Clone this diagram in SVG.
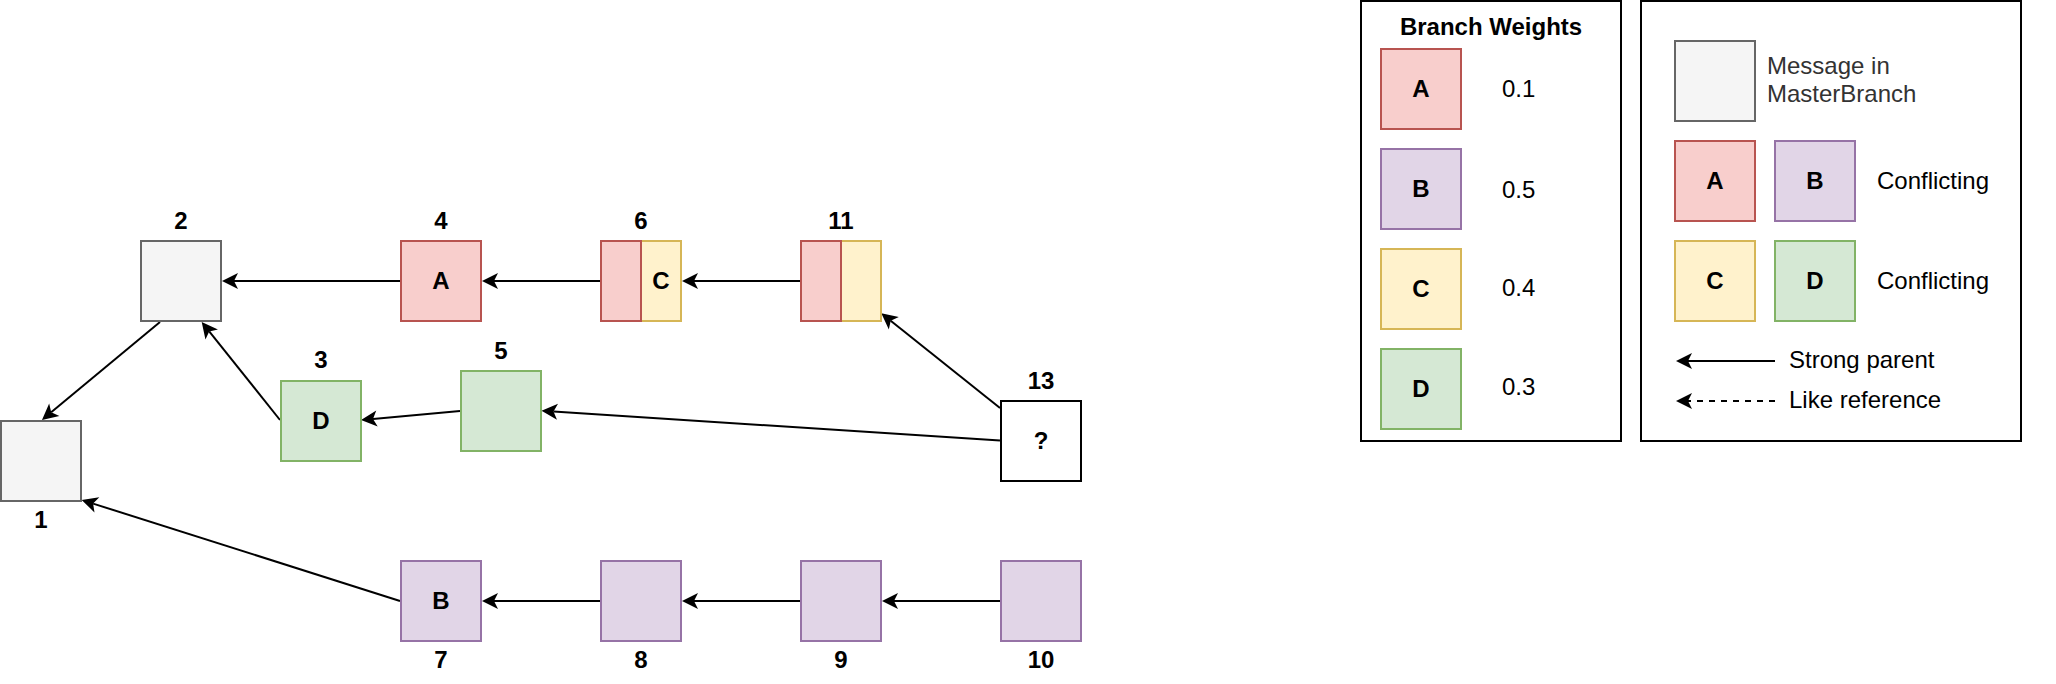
<svg xmlns="http://www.w3.org/2000/svg" width="2056" height="684" viewBox="0 0 2056 684">
<defs>
<style>
text{font-family:"Liberation Sans",Arial,Helvetica,sans-serif;font-size:24px;fill:#000}
.b{font-weight:bold}
.m{text-anchor:middle}
.g{fill:#f5f5f5;stroke:#666666;stroke-width:2}
.r{fill:#f8cecc;stroke:#b85450;stroke-width:2}
.p{fill:#e1d5e7;stroke:#9673a6;stroke-width:2}
.y{fill:#fff2cc;stroke:#d6b656;stroke-width:2}
.gr{fill:#d5e8d4;stroke:#82b366;stroke-width:2}
.w{fill:#ffffff;stroke:#000000;stroke-width:2}
.frame{fill:#ffffff;stroke:#000000;stroke-width:2}
.e{fill:none;stroke:#000;stroke-width:2;marker-end:url(#arr)}
.d{stroke-dasharray:6 6}
.dk{fill:#333333}
</style>
<marker id="arr" markerUnits="userSpaceOnUse" viewBox="-17 -9 18 18" markerWidth="18" markerHeight="18" refX="-12" refY="0" orient="auto">
<path d="M0,0 L-16,-8 L-12,0 L-16,8 Z" fill="#000"/>
</marker>
</defs>
<rect width="2056" height="684" fill="#ffffff"/>

<g id="connectors">
<line class="e" x1="400" y1="281" x2="234" y2="281"/>
<line class="e" x1="600" y1="281" x2="494" y2="281"/>
<line class="e" x1="800" y1="281" x2="694" y2="281"/>
<line class="e" x1="160" y1="322" x2="51.2" y2="412.3"/>
<line class="e" x1="280" y1="420" x2="209.2" y2="331.4"/>
<line class="e" x1="460" y1="411" x2="373" y2="418.9"/>
<line class="e" x1="1000" y1="440.5" x2="553.5" y2="411.5"/>
<line class="e" x1="1000" y1="408" x2="890.7" y2="320.8"/>
<line class="e" x1="400" y1="601" x2="93.1" y2="503.6"/>
<line class="e" x1="600" y1="601" x2="494" y2="601"/>
<line class="e" x1="800" y1="601" x2="694" y2="601"/>
<line class="e" x1="1000" y1="601" x2="894" y2="601"/>
</g>

<g id="node1"><rect class="g" x="1" y="421" width="80" height="80"/><text class="b m" x="41" y="528">1</text></g>
<g id="node2"><rect class="g" x="141" y="241" width="80" height="80"/><text class="b m" x="181" y="229">2</text></g>
<g id="node3"><rect class="gr" x="281" y="381" width="80" height="80"/><text class="b m" x="321" y="429">D</text><text class="b m" x="321" y="368">3</text></g>
<g id="node4"><rect class="r" x="401" y="241" width="80" height="80"/><text class="b m" x="441" y="289">A</text><text class="b m" x="441" y="229">4</text></g>
<g id="node5"><rect class="gr" x="461" y="371" width="80" height="80"/><text class="b m" x="501" y="359">5</text></g>
<g id="node6"><rect class="y" x="641" y="241" width="40" height="80"/><rect class="r" x="601" y="241" width="40" height="80"/><text class="b m" x="661" y="289">C</text><text class="b m" x="641" y="229">6</text></g>
<g id="node11"><rect class="y" x="841" y="241" width="40" height="80"/><rect class="r" x="801" y="241" width="40" height="80"/><text class="b m" x="841" y="229">11</text></g>
<g id="node13"><rect class="w" x="1001" y="401" width="80" height="80"/><text class="b m" x="1041" y="449">?</text><text class="b m" x="1041" y="389">13</text></g>
<g id="node7"><rect class="p" x="401" y="561" width="80" height="80"/><text class="b m" x="441" y="609">B</text><text class="b m" x="441" y="668">7</text></g>
<g id="node8"><rect class="p" x="601" y="561" width="80" height="80"/><text class="b m" x="641" y="668">8</text></g>
<g id="node9"><rect class="p" x="801" y="561" width="80" height="80"/><text class="b m" x="841" y="668">9</text></g>
<g id="node10"><rect class="p" x="1001" y="561" width="80" height="80"/><text class="b m" x="1041" y="668">10</text></g>

<g id="legend-weights">
<rect class="frame" x="1361" y="1" width="260" height="440"/>
<text class="b m" x="1491" y="35">Branch Weights</text>
<rect class="r" x="1381" y="49" width="80" height="80"/><text class="b m" x="1421" y="97">A</text><text x="1502" y="97">0.1</text>
<rect class="p" x="1381" y="149" width="80" height="80"/><text class="b m" x="1421" y="197">B</text><text x="1502" y="198">0.5</text>
<rect class="y" x="1381" y="249" width="80" height="80"/><text class="b m" x="1421" y="297">C</text><text x="1502" y="296">0.4</text>
<rect class="gr" x="1381" y="349" width="80" height="80"/><text class="b m" x="1421" y="397">D</text><text x="1502" y="395">0.3</text>
</g>

<g id="legend-key">
<rect class="frame" x="1641" y="1" width="380" height="440"/>
<rect class="g" x="1675" y="41" width="80" height="80"/>
<text class="dk" x="1767" y="74">Message in</text>
<text class="dk" x="1767" y="101.5">MasterBranch</text>
<rect class="r" x="1675" y="141" width="80" height="80"/><text class="b m" x="1715" y="189">A</text>
<rect class="p" x="1775" y="141" width="80" height="80"/><text class="b m" x="1815" y="189">B</text>
<text x="1877" y="188.5">Conflicting</text>
<rect class="y" x="1675" y="241" width="80" height="80"/><text class="b m" x="1715" y="289">C</text>
<rect class="gr" x="1775" y="241" width="80" height="80"/><text class="b m" x="1815" y="289">D</text>
<text x="1877" y="288.5">Conflicting</text>
<line class="e" x1="1775" y1="361" x2="1688" y2="361"/>
<text x="1789" y="368">Strong parent</text>
<line class="e d" x1="1775" y1="401" x2="1688" y2="401"/>
<text x="1789" y="408">Like reference</text>
</g>
</svg>
